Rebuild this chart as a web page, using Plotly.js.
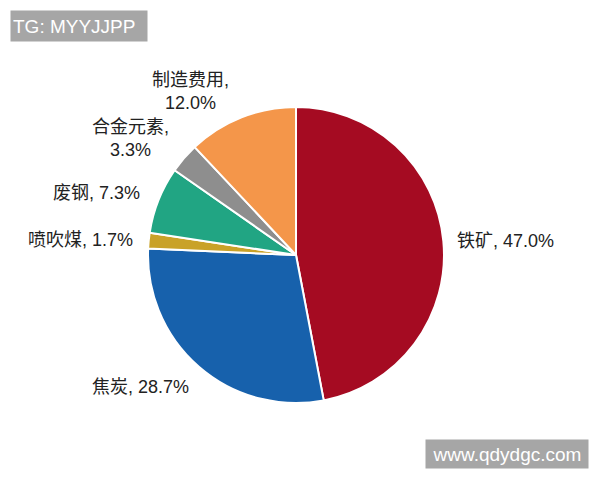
<!DOCTYPE html>
<html>
<head>
<meta charset="utf-8">
<script src="https://cdn.plot.ly/plotly-3.0.1.min.js"></script>
<style>html,body{margin:0;padding:0;background:#fff;}#chart{width:600px;height:480px;}</style>
</head>
<body>
<div id="chart"></div>
<script>
const categories = ["铁矿", "焦炭", "喷吹煤", "废钢", "合金元素", "制造费用"];
const shares = [47.0, 28.7, 1.7, 7.3, 3.3, 12.0];
const colors = ["#A50B22", "#1761AC", "#C9A228", "#21A583", "#8E8E8E", "#F4964A"];
const labelBreak = [false, false, false, false, true, true];
const labelPos = [[505, 241], [140, 387], [80, 240], [96, 193], [130, 138], [190, 91]];

const FONT = "Liberation Sans, Arial, Noto Sans CJK SC, sans-serif";

const annotations = categories.map((c, i) => ({
  xref: "paper", yref: "paper",
  x: labelPos[i][0] / 600, y: 1 - labelPos[i][1] / 480,
  xanchor: "center", yanchor: "middle",
  text: c + "," + (labelBreak[i] ? "<br>" : " ") + shares[i].toFixed(1) + "%",
  showarrow: false,
  align: "center",
  font: {family: FONT, size: 18, color: "#222"}
}));

annotations.push({
  xref: "paper", yref: "paper", x: 10/600, y: 1 - 10/480,
  xanchor: "left", yanchor: "top",
  text: "TG: MYYJJPP", showarrow: false,
  bgcolor: "#A6A6A6", width: 132, height: 26, align: "left",
  borderpad: 2,
  font: {family: FONT, size: 19, color: "#fff"}
});
annotations.push({
  xref: "paper", yref: "paper", x: 589/600, y: 1 - 469/480,
  xanchor: "right", yanchor: "bottom",
  text: "www.qdydgc.com", showarrow: false,
  bgcolor: "#A6A6A6", width: 160, height: 26, align: "center",
  borderpad: 1,
  font: {family: FONT, size: 19, color: "#fff"}
});

const data = [{
  type: "pie",
  labels: categories,
  values: shares,
  sort: false,
  direction: "clockwise",
  rotation: 0,
  marker: {colors: colors, line: {color: "#fff", width: 2}},
  textinfo: "none",
  hoverinfo: "label+percent",
  showlegend: false,
  domain: {x: [148/600, 444/600], y: [1 - 403/480, 1 - 107/480]}
}];

const layout = {
  width: 600, height: 480,
  margin: {l: 0, r: 0, t: 0, b: 0},
  paper_bgcolor: "#fff",
  showlegend: false,
  annotations: annotations
};

Plotly.newPlot("chart", data, layout, {displayModeBar: false, staticPlot: true});
</script>
</body>
</html>
